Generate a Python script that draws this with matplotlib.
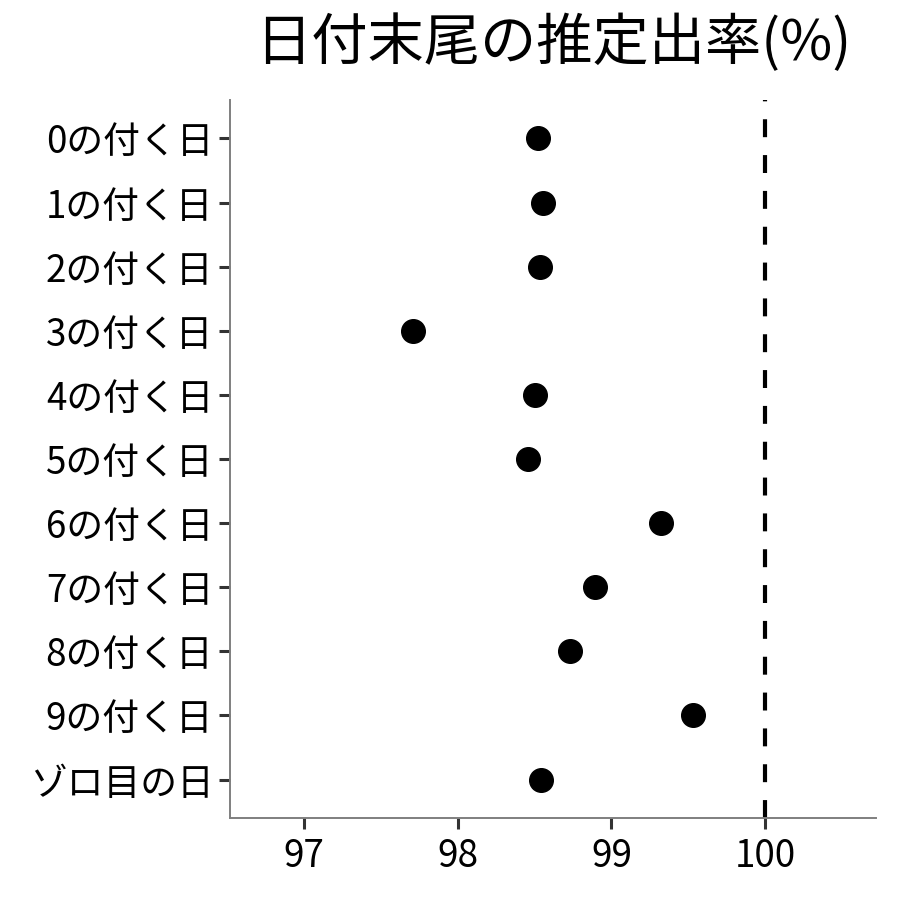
import matplotlib
matplotlib.use("Agg")
import matplotlib.pyplot as plt

plt.rcParams['font.family'] = ['Noto Sans CJK JP', 'DejaVu Sans']

categories = ["0の付く日", "1の付く日", "2の付く日", "3の付く日", "4の付く日",
              "5の付く日", "6の付く日", "7の付く日", "8の付く日", "9の付く日",
              "ゾロ目の日"]
rates = [98.52, 98.555, 98.535, 97.71, 98.50, 98.46, 99.32, 98.89, 98.73, 99.53, 98.54]
x_ticks = [97, 98, 99, 100]
reference = 100

fig = plt.figure(figsize=(9, 9), dpi=100)
ax = fig.add_axes([230 / 900, 1 - 818 / 900, 646 / 900, 718 / 900])

ypos = list(range(len(categories)))
ax.plot(rates, ypos, 'o', color='black', markersize=17, zorder=3)
ax.axvline(reference, color='black', linewidth=3, linestyle=(0, (4.3, 4.3)), zorder=2)

ax.set_yticks(ypos)
ax.set_yticklabels(categories)
ax.set_ylim(len(categories) - 1 + 0.6, -0.6)
ax.set_xticks(x_ticks)
ax.set_xticklabels([str(t) for t in x_ticks])
ax.set_xlim(96.52, 100.72)

for side in ['top', 'right']:
    ax.spines[side].set_visible(False)
for side in ['left', 'bottom']:
    ax.spines[side].set_color('#7f7f7f')
    ax.spines[side].set_linewidth(1.4)

ax.tick_params(axis='both', colors='#333333', width=2.2, length=8, labelsize=26.5,
               labelcolor='black')
ax.tick_params(axis='x', pad=6)
ax.tick_params(axis='y', pad=4)

fig.text((230 + 876) / 2 / 900, 1 - 44 / 900, "日付末尾の推定出率(%)",
         ha='center', va='center', fontsize=40.5)

fig.savefig("out.png", dpi=100, facecolor='white')
